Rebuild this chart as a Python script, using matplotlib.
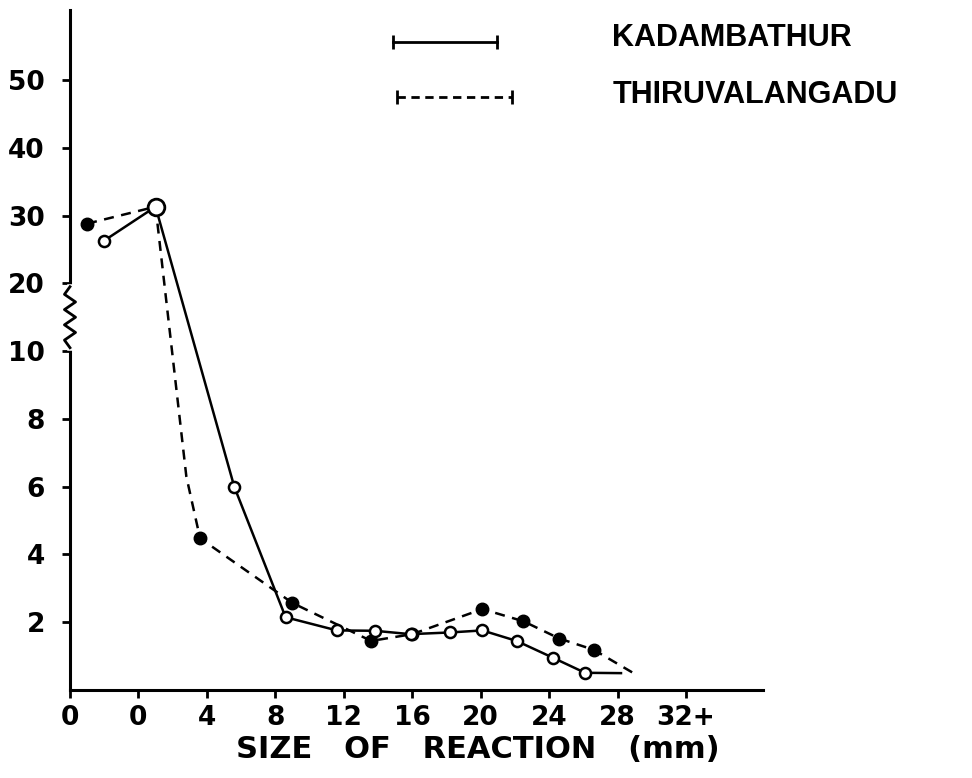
import matplotlib
matplotlib.use('Agg')
import matplotlib.pyplot as plt
from matplotlib.lines import Line2D
import numpy as np

# broken y-axis: equal spacing for 0,2,4,6,8 then 10,20,30,40,50
scale_vals = [0, 8, 10, 20, 30, 40, 50, 60, 70]
scale_pos = [0, 4, 5, 6, 7, 8, 9, 10, 11]

y_ticks = [2, 4, 6, 8, 10, 20, 30, 40, 50]
y_ticklabels = ['2', '4', '6', '8', '10', '20', '30', '40', '50']
x_ticks = [-4, 0, 4, 8, 12, 16, 20, 24, 28, 32]
x_ticklabels = ['0', '0', '4', '8', '12', '16', '20', '24', '28', '32+']

kad_x = [-2, 1, 5.6, 8.6, 11.6, 13.8, 15.9, 18.2, 20.1, 22.1, 24.2, 26.1, 28.2]
kad_y = [26.3, 31.3, 6.0, 2.15, 1.76, 1.75, 1.65, 1.7, 1.76, 1.45, 0.96, 0.51, 0.5]
kad_marked = list(range(12))

thi_x = [-3, 1, 2.8, 3.6, 9.0, 13.6, 16.0, 20.1, 22.5, 24.6, 26.6, 29.1]
thi_y = [28.8, 31.3, 6.3, 4.48, 2.57, 1.45, 1.65, 2.39, 2.03, 1.52, 1.19, 0.45]
thi_marked = [0, 3, 4, 5, 6, 7, 8, 9, 10]

series_names = ['KADAMBATHUR', 'THIRUVALANGADU']


def fwd(v):
  return np.interp(v, scale_vals, scale_pos)


def inv(p):
  return np.interp(p, scale_pos, scale_vals)


def reaction_size_plot():
  fig = plt.figure(figsize=(9.72, 7.78), dpi=100)
  ax = fig.add_axes([0.072, 0.113, 0.713, 0.874])
  ax.set_yscale('function', functions=(fwd, inv))
  ax.set_xlim(-4, 36.5)
  ax.set_ylim(0, 60.3)

  for s in ['top', 'right']:
    ax.spines[s].set_visible(False)
  for s in ['left', 'bottom']:
    ax.spines[s].set_linewidth(2.2)

  ax.set_yticks(y_ticks)
  ax.set_yticklabels(y_ticklabels, fontsize=19, fontweight='bold')
  ax.set_xticks(x_ticks)
  ax.set_xticklabels(x_ticklabels, fontsize=19, fontweight='bold')
  ax.yaxis.set_minor_locator(plt.NullLocator())
  ax.tick_params(axis='y', length=6, width=2, pad=12)
  ax.tick_params(axis='x', length=6, width=2, pad=5)

  ax.plot(kad_x, kad_y, color='black', lw=1.8, marker='o', markevery=kad_marked,
          markersize=8, markerfacecolor='white', markeredgewidth=1.8, zorder=3)
  ax.plot(thi_x, thi_y, color='black', lw=1.8, dashes=(4, 3), marker='o',
          markevery=thi_marked, markersize=9, markerfacecolor='black', zorder=2)
  # shared peak drawn as a larger open circle
  ax.plot(kad_x[1], kad_y[1], 'o', markersize=12, markerfacecolor='white',
          markeredgecolor='black', markeredgewidth=2, zorder=4)

  # zigzag break on the y axis
  tr = ax.get_yaxis_transform()
  ax.plot([0, 0], [19.5, 10.5], color='white', lw=4, transform=tr, clip_on=False, zorder=5)
  zy = np.linspace(19.5, 10.5, 9)
  zx = [0, -0.008, 0.008, -0.008, 0.008, -0.008, 0.008, -0.008, 0]
  ax.plot(zx, zy, color='black', lw=2, transform=tr, clip_on=False, zorder=6)

  # legend drawn by hand
  fig.add_artist(Line2D([0.404, 0.511], [0.946, 0.946], color='black', lw=2,
                        marker='|', markevery=[0, 1], markersize=10, mew=2))
  fig.add_artist(Line2D([0.408, 0.527], [0.875, 0.875], color='black', lw=2,
                        dashes=(3, 2), marker='|', markevery=[0, 1], markersize=10, mew=2))
  fig.text(0.63, 0.951, series_names[0], fontsize=22, fontweight='bold',
           family=['Liberation Sans', 'DejaVu Sans'], va='center')
  fig.text(0.63, 0.878, series_names[1], fontsize=22, fontweight='bold',
           family=['Liberation Sans', 'DejaVu Sans'], va='center')

  fig.text(0.492, 0.036, 'SIZE   OF   REACTION   (mm)', fontsize=22, fontweight='bold',
           ha='center', va='center')

  plt.savefig('out.png', dpi=100)


if __name__ == '__main__':
  reaction_size_plot()
